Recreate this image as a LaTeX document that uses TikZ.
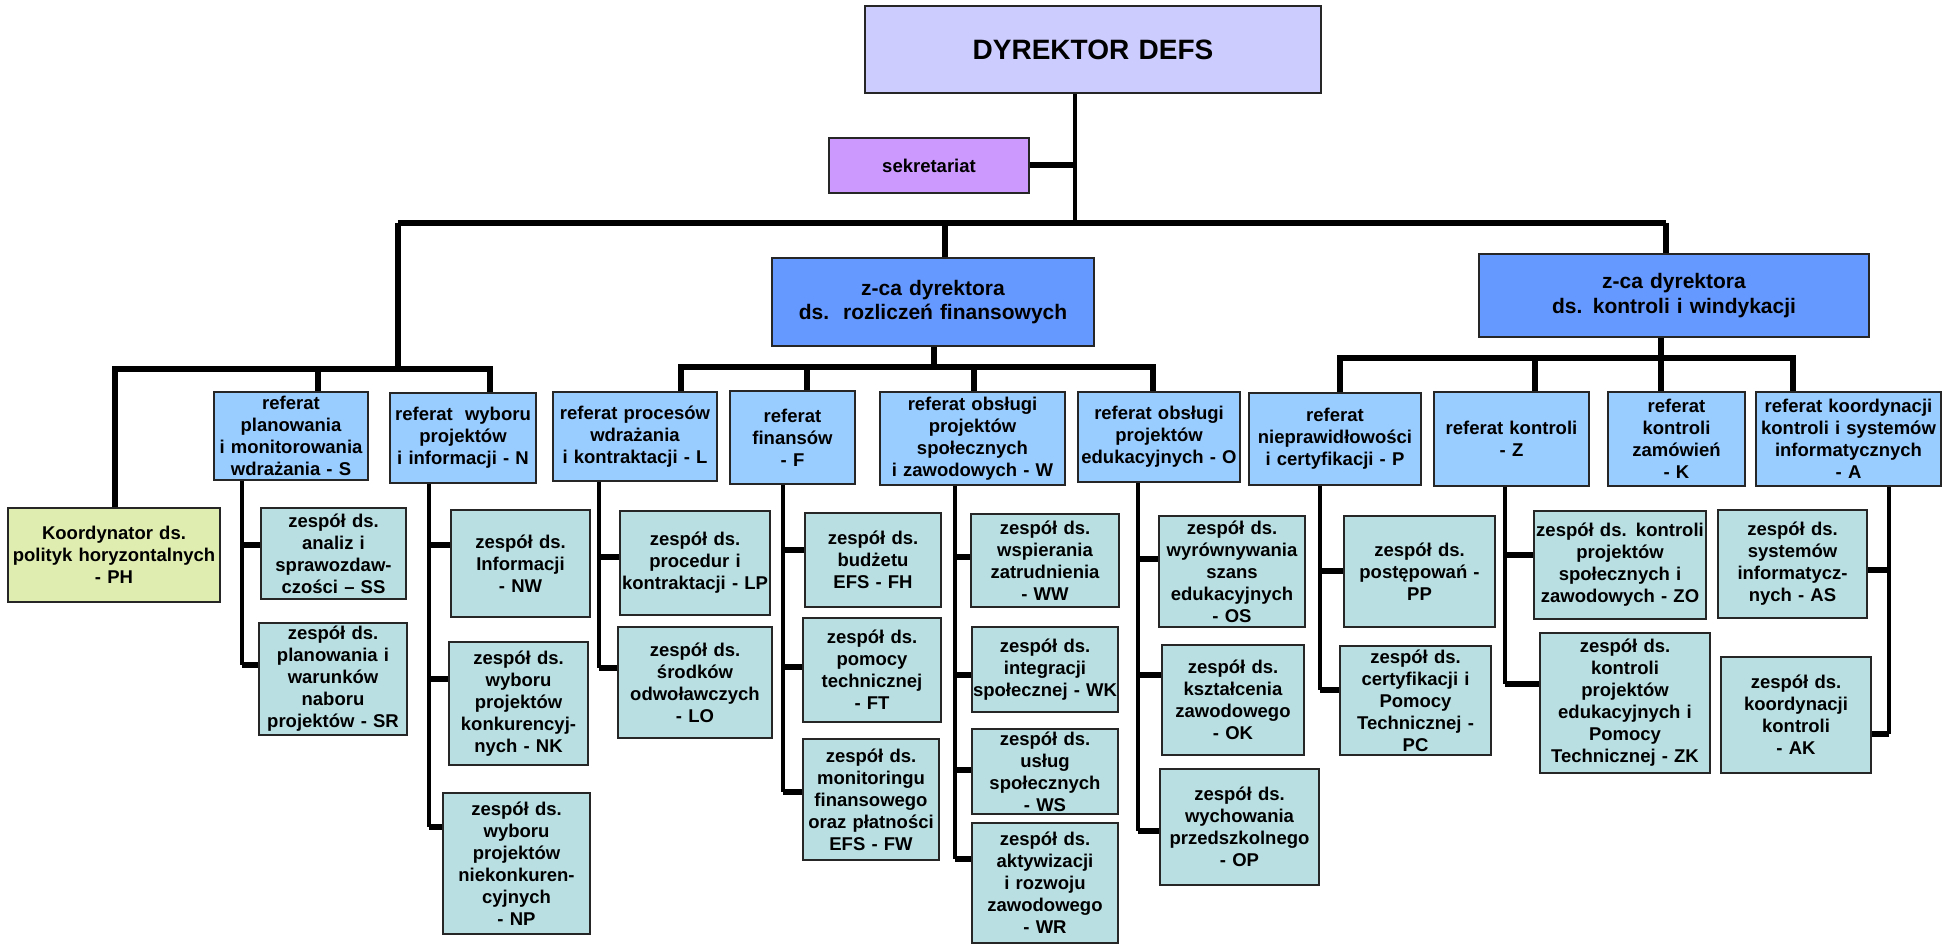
\documentclass[tikz,border=0pt]{standalone}
\usepackage{fontspec}
\setmainfont{Liberation Sans}
\definecolor{cDir}{HTML}{CCCCFF}
\definecolor{cSek}{HTML}{CC99FF}
\definecolor{cZca}{HTML}{6699FF}
\definecolor{cRef}{HTML}{99CCFF}
\definecolor{cZes}{HTML}{B9DFE3}
\definecolor{cKoo}{HTML}{E0EDB0}
\newcommand\bx[7]{%
  \pgfmathsetmacro\bw{#4-#2}\pgfmathsetmacro\bh{#5-#3}%
  \pgfmathsetmacro\bcx{(#2+#4)/2}\pgfmathsetmacro\bcy{(#3+#5)/2}%
  \node[#6, minimum width=\bw pt, text width=\bw pt, minimum height=\bh pt] (#1) at (\bcx,\bcy) {#7};}
% drop from bus point (x,y) down to top of node
\newcommand\dropto[4][bus]{\coordinate (tmp) at (#2,#3); \draw[#1] (tmp) -- (tmp |- #4.north);}
% column from parent bottom at x down to y
\newcommand\column[3]{\coordinate (tmp) at (#2,#3); \draw[conn] (tmp |- #1.south) -- (tmp);}
% tick from column (x,y) to side of node
\newcommand\tick[4]{\coordinate (tmp) at (#1,#2); \draw[tickc] (tmp) -- (tmp -| #3.#4);}
\begin{document}
\begin{tikzpicture}[x=1pt,y=-1pt,
  box/.style={draw=black!85, line width=1.3pt, inner sep=0pt, align=center,
    font=\fontsize{18.5}{22}\selectfont\bfseries},
  dir/.style={box, fill=cDir, font=\fontsize{28}{32}\selectfont\bfseries},
  sek/.style={box, fill=cSek},
  zca/.style={box, fill=cZca, font=\fontsize{21}{24.5}\selectfont\bfseries},
  ref/.style={box, fill=cRef},
  zes/.style={box, fill=cZes},
  koo/.style={box, fill=cKoo},
  bus/.style={line width=5.5pt, line join=miter},
  conn/.style={line width=4.5pt},
  tickc/.style={line width=5.5pt}]
\fill[white] (0,0) rectangle (1943,944);
\useasboundingbox (0,0) rectangle (1943,944);

% ---------- top level ----------
\bx{DIR}{865}{6}{1321}{93}{dir}{DYREKTOR DEFS}
\bx{SEK}{829}{138}{1029}{193}{sek}{sekretariat}
\bx{Z1}{772}{258}{1094}{346}{zca}{z-ca dyrektora\\ds.\ \ rozliczeń finansowych}
\bx{Z2}{1479}{254}{1869}{337}{zca}{z-ca dyrektora\\ds. kontroli i windykacji}

% ---------- referaty ----------
\bx{PH}{8}{508}{220}{602}{koo}{Koordynator ds.\\polityk horyzontalnych\\- PH}
\bx{S}{214}{392}{368}{480}{ref}{referat\\planowania\\i monitorowania\\wdrażania - S}
\bx{N}{390}{393}{536}{483}{ref}{referat\ \ wyboru\\projektów\\i informacji - N}
\bx{L}{553}{392}{717}{481}{ref}{referat procesów\\wdrażania\\i kontraktacji - L}
\bx{F}{730}{391}{855}{484}{ref}{referat\\finansów\\- F}
\bx{W}{880}{392}{1065}{485}{ref}{referat obsługi\\projektów\\społecznych\\i zawodowych - W}
\bx{O}{1078}{392}{1240}{482}{ref}{referat obsługi\\projektów\\edukacyjnych - O}
\bx{P}{1249}{393}{1421}{485}{ref}{referat\\nieprawidłowości\\i certyfikacji - P}
\bx{Z}{1434}{392}{1589}{486}{ref}{referat kontroli\\- Z}
\bx{K}{1608}{392}{1745}{486}{ref}{referat\\kontroli\\zamówień\\- K}
\bx{A}{1756}{392}{1941}{486}{ref}{referat koordynacji\\kontroli i systemów\\informatycznych\\- A}

% ---------- zespoly ----------
\bx{SS}{261}{508}{406}{599}{zes}{zespół ds.\\analiz i\\sprawozdaw-\\czości – SS}
\bx{SR}{259}{623}{407}{735}{zes}{zespół ds.\\planowania i\\warunków\\naboru\\projektów - SR}
\bx{NW}{451}{510}{590}{617}{zes}{zespół ds.\\Informacji\\- NW}
\bx{NK}{449}{642}{588}{765}{zes}{zespół ds.\\wyboru\\projektów\\konkurencyj-\\nych - NK}
\bx{NP}{443}{793}{590}{934}{zes}{zespół ds.\\wyboru\\projektów\\niekonkuren-\\cyjnych\\- NP}
\bx{LP}{620}{511}{770}{615}{zes}{zespół ds.\\procedur i\\kontraktacji - LP}
\bx{LO}{618}{627}{772}{738}{zes}{zespół ds.\\środków\\odwoławczych\\- LO}
\bx{FH}{805}{513}{941}{607}{zes}{zespół ds.\\budżetu\\EFS - FH}
\bx{FT}{803}{618}{941}{722}{zes}{zespół ds.\\pomocy\\technicznej\\- FT}
\bx{FW}{803}{739}{939}{860}{zes}{zespół ds.\\monitoringu\\finansowego\\oraz płatności\\EFS - FW}
\bx{WW}{971}{514}{1119}{607}{zes}{zespół ds.\\wspierania\\zatrudnienia\\- WW}
\bx{WK}{972}{627}{1118}{712}{zes}{zespół ds.\\integracji\\społecznej - WK}
\bx{WS}{972}{729}{1118}{814}{zes}{zespół ds.\\usług\\społecznych\\- WS}
\bx{WR}{972}{823}{1118}{943}{zes}{zespół ds.\\aktywizacji\\i rozwoju\\zawodowego\\- WR}
\bx{OS}{1159}{516}{1305}{627}{zes}{zespół ds.\\wyrównywania\\szans\\edukacyjnych\\- OS}
\bx{OK}{1162}{645}{1304}{755}{zes}{zespół ds.\\kształcenia\\zawodowego\\- OK}
\bx{OP}{1160}{769}{1319}{885}{zes}{zespół ds.\\wychowania\\przedszkolnego\\- OP}
\bx{PP}{1344}{516}{1495}{627}{zes}{zespół ds.\\postępowań -\\PP}
\bx{PC}{1340}{646}{1491}{755}{zes}{zespół ds.\\certyfikacji i\\Pomocy\\Technicznej -\\PC}
\bx{ZO}{1534}{511}{1706}{619}{zes}{zespół ds. kontroli\\projektów\\społecznych i\\zawodowych - ZO}
\bx{ZK}{1540}{633}{1710}{773}{zes}{zespół ds.\\kontroli\\projektów\\edukacyjnych i\\Pomocy\\Technicznej - ZK}
\bx{AS}{1718}{510}{1867}{618}{zes}{zespół ds.\\systemów\\informatycz-\\nych - AS}
\bx{AK}{1721}{657}{1871}{773}{zes}{zespół ds.\\koordynacji\\kontroli\\- AK}

% ---------- connectors: top ----------
\coordinate (jD) at (1075,223);
\coordinate (bL) at (398,223);
\coordinate (bR) at (1666,223);
\draw[conn] (DIR.south -| jD) -- (jD);
\draw[bus, line width=6pt] (SEK.east) -- (SEK.east -| jD);
\draw[bus] (bL) -- (bR);
\draw[bus] (bR) -- (bR |- Z2.north);
\dropto{945}{223}{Z1}

% left group
\coordinate (gL) at (398,369);
\coordinate (gL1) at (115,369);
\coordinate (gL2) at (490,369);
\draw[bus] (bL) -- (gL);
\draw[bus] (gL1 |- PH.north) -- (gL1) -- (gL2) -- (gL2 |- N.north);
\dropto{318}{369}{S}

% z-ca 1 group
\coordinate (j1) at (934,367);
\coordinate (b1a) at (681,367);
\coordinate (b1b) at (1153,367);
\draw[bus] (Z1.south -| j1) -- (j1);
\draw[bus] (b1a |- L.north) -- (b1a) -- (b1b) -- (b1b |- O.north);
\dropto{807}{367}{F}
\dropto{974}{367}{W}

% z-ca 2 group
\coordinate (j2) at (1661,358);
\coordinate (b2a) at (1340,358);
\coordinate (b2b) at (1793,358);
\draw[bus] (Z2.south -| j2) -- (j2);
\draw[bus] (b2a |- P.north) -- (b2a) -- (b2b) -- (b2b |- A.north);
\dropto{1535}{358}{Z}
\dropto{1661}{358}{K}

% ---------- columns ----------
\column{S}{242}{665}
\tick{242}{545}{SS}{west}
\tick{242}{665}{SR}{west}

\column{N}{429}{827}
\tick{429}{545}{NW}{west}
\tick{429}{679}{NK}{west}
\tick{429}{827}{NP}{west}

\column{L}{599}{668}
\tick{599}{557}{LP}{west}
\tick{599}{668}{LO}{west}

\column{F}{783}{792}
\tick{783}{550}{FH}{west}
\tick{783}{667}{FT}{west}
\tick{783}{792}{FW}{west}

\column{W}{955}{859}
\tick{955}{557}{WW}{west}
\tick{955}{675}{WK}{west}
\tick{955}{770}{WS}{west}
\tick{955}{859}{WR}{west}

\column{O}{1138}{831}
\tick{1138}{559}{OS}{west}
\tick{1138}{675}{OK}{west}
\tick{1138}{831}{OP}{west}

\column{P}{1320}{690}
\tick{1320}{571}{PP}{west}
\tick{1320}{690}{PC}{west}

\column{Z}{1505}{684}
\tick{1505}{555}{ZO}{west}
\tick{1505}{684}{ZK}{west}

\column{A}{1889}{734}
\tick{1889}{570}{AS}{east}
\tick{1889}{734}{AK}{east}
\end{tikzpicture}
\end{document}
